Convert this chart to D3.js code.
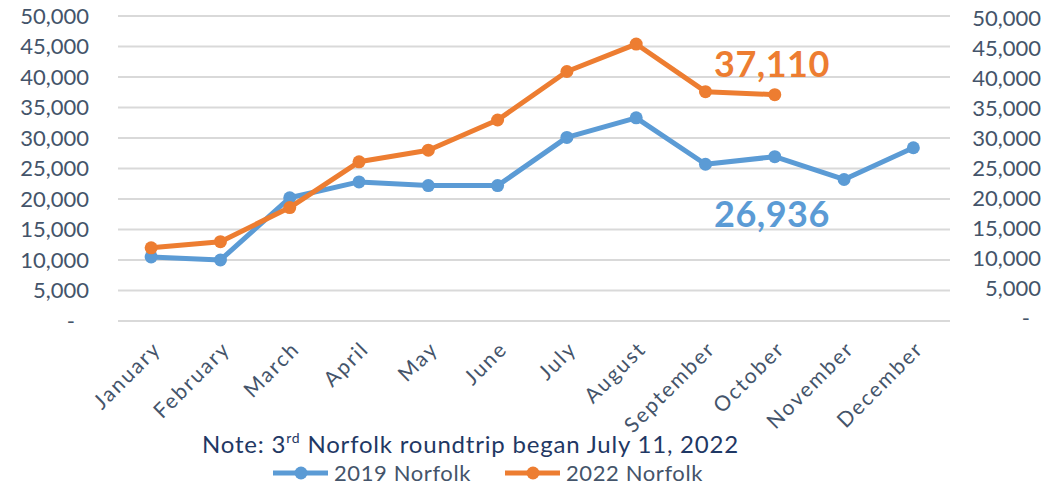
<!DOCTYPE html>
<html><head><meta charset="utf-8">
<script src="https://cdn.jsdelivr.net/npm/d3@7"></script>
<style>
body{margin:0;background:#fff;}
svg{display:block;font-family:Lato, "Open Sans", sans-serif;}
</style></head>
<body>
<svg id="c" width="1043" height="487"></svg>
<script>
const months = ["January","February","March","April","May","June","July","August","September","October","November","December"];
const norfolk2019 = [10500, 10000, 20200, 22800, 22200, 22200, 30100, 33300, 25700, 26936, 23200, 28400];
const norfolk2022 = [12000, 13000, 18600, 26100, 28000, 32950, 40900, 45400, 37600, 37110];
const yTicks = [0,5000,10000,15000,20000,25000,30000,35000,40000,45000,50000];
const seriesNames = ["2019 Norfolk","2022 Norfolk"];
const colors = ["#5B9BD5","#ED7D31"];
const callouts = [{series:1, idx:9, text:"37,110"},{series:0, idx:9, text:"26,936"}];

const svg = d3.select("#c");
const x = d3.scaleBand().domain(months).range([116.5, 948]);
const y = d3.scaleLinear().domain([0,50000]).range([321,16]);
const yR = d3.scaleLinear().domain([0,50000]).range([318,18]);
const fmt = v => v===0 ? "-" : d3.format(",")(v);
const axisColor = "#44546A";

// gridlines
svg.append("g").selectAll("line").data(yTicks).join("line")
  .attr("x1",118).attr("x2",950)
  .attr("y1",d=>y(d)).attr("y2",d=>y(d))
  .attr("stroke","#D9D9D9").attr("stroke-width",2);

// left axis
const gl = svg.append("g").attr("transform","translate(89,0)")
  .call(d3.axisLeft(y).tickValues(yTicks).tickFormat(fmt).tickSize(0).tickPadding(0));
gl.select(".domain").remove();
gl.selectAll("text").attr("font-size",22).attr("fill",axisColor).attr("font-family","Lato")
  .attr("dx",d=>d===0?-14:0);

// right axis
const gr = svg.append("g").attr("transform","translate(1041,0)")
  .call(d3.axisLeft(yR).tickValues(yTicks).tickFormat(fmt).tickSize(0).tickPadding(0));
gr.select(".domain").remove();
gr.selectAll("text").attr("font-size",22).attr("fill",axisColor).attr("font-family","Lato")
  .attr("dx",d=>d===0?-11:0);

// x axis labels
const gx = svg.append("g").attr("transform","translate(0,321)")
  .call(d3.axisBottom(x).tickSize(0).tickPadding(0));
gx.select(".domain").remove();
gx.selectAll("text")
  .attr("font-size",21).attr("fill",axisColor).attr("font-family","Lato")
  .attr("letter-spacing","2px")
  .attr("text-anchor","end")
  .attr("transform","translate(6,24) rotate(-45)")
  .attr("dy","0.35em").attr("y",0);

// lines
const series = [norfolk2019, norfolk2022];
const line = d3.line().x((d,i)=>x(months[i])+x.bandwidth()/2).y(d=>y(d));
series.forEach((s,k)=>{
  svg.append("path").datum(s).attr("d",line).attr("fill","none")
    .attr("stroke",colors[k]).attr("stroke-width",5).attr("stroke-linejoin","round");
  svg.append("g").selectAll("circle").data(s).join("circle")
    .attr("cx",(d,i)=>x(months[i])+x.bandwidth()/2).attr("cy",d=>y(d)).attr("r",6.5)
    .attr("fill",colors[k]);
});

// callouts
svg.append("text").attr("x",714).attr("y",77).text(callouts[0].text)
  .attr("font-size",36).attr("font-weight","bold").attr("letter-spacing","0.5px").attr("fill",colors[callouts[0].series]);
svg.append("text").attr("x",714).attr("y",227).text(callouts[1].text)
  .attr("font-size",36).attr("font-weight","bold").attr("letter-spacing","0.5px").attr("fill",colors[callouts[1].series]);

// note
const note = svg.append("text").attr("x",202).attr("y",453).attr("font-size",24)
  .attr("letter-spacing","0.8px").attr("fill","#1F3864");
note.append("tspan").text("Note: 3");
note.append("tspan").text("rd").attr("font-size",14).attr("dy",-10);
note.append("tspan").text(" Norfolk roundtrip began July 11, 2022").attr("dy",10);

// legend
const legX = [273, 505];
seriesNames.forEach((n,k)=>{
  const g = svg.append("g").attr("transform",`translate(${legX[k]},473)`);
  g.append("line").attr("x1",0).attr("x2",55).attr("stroke",colors[k]).attr("stroke-width",5);
  g.append("circle").attr("cx",28).attr("r",6.5).attr("fill",colors[k]);
  g.append("text").attr("x",61).attr("y",8).text(n).attr("font-size",22)
    .attr("letter-spacing","0.6px").attr("fill",axisColor);
});
</script>
</body></html>
